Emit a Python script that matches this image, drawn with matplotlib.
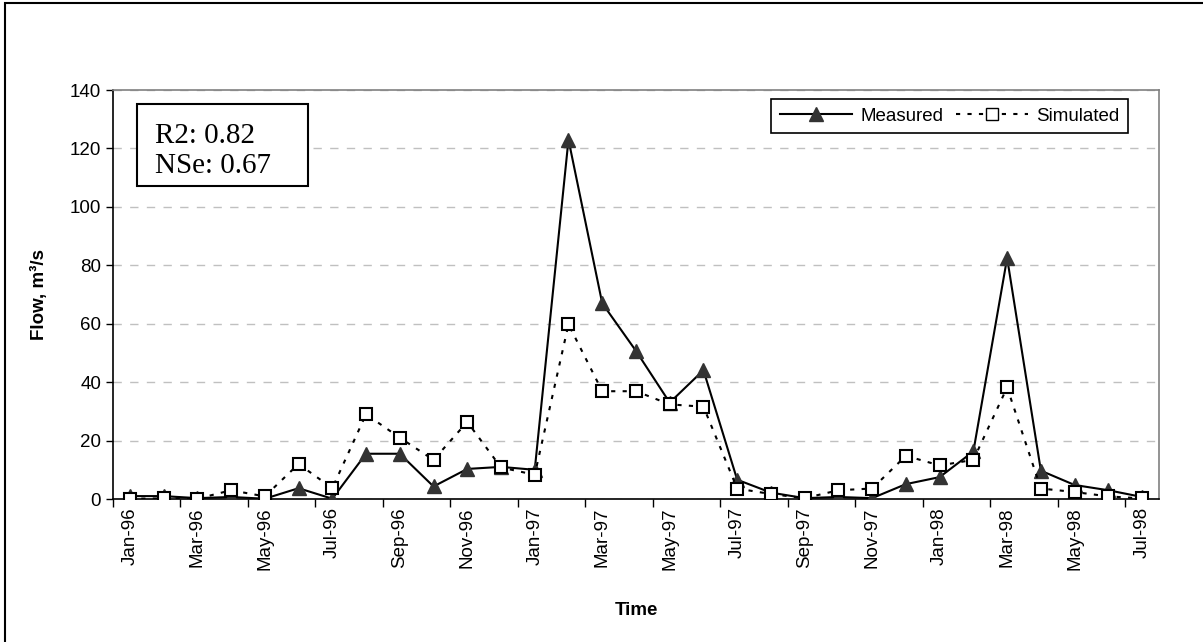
import matplotlib.pyplot as plt
from matplotlib.lines import Line2D

months = ['Jan-96', 'Feb-96', 'Mar-96', 'Apr-96', 'May-96', 'Jun-96', 'Jul-96', 'Aug-96',
          'Sep-96', 'Oct-96', 'Nov-96', 'Dec-96', 'Jan-97', 'Feb-97', 'Mar-97', 'Apr-97',
          'May-97', 'Jun-97', 'Jul-97', 'Aug-97', 'Sep-97', 'Oct-97', 'Nov-97', 'Dec-97',
          'Jan-98', 'Feb-98', 'Mar-98', 'Apr-98', 'May-98', 'Jun-98', 'Jul-98']
measured = [1.0, 1.0, 0.3, 0.7, 0.1, 3.7, 0.1, 15.5, 15.5, 4.3, 10.3, 11.0, 10.0, 123.0,
            67.0, 50.7, 33.0, 44.1, 6.6, 2.2, 0.3, 0.7, 0.3, 5.1, 7.5, 16.3, 82.5,
            9.7, 4.8, 3.0, 0.7]
simulated = [0.1, 0.2, 0.1, 3.0, 0.9, 12.0, 3.7, 29.0, 21.0, 13.4, 26.4, 10.8, 8.3, 59.8,
             36.9, 36.9, 32.4, 31.6, 3.6, 1.7, 0.3, 3.0, 3.6, 14.8, 11.5, 13.4, 38.2,
             3.6, 2.4, 0.9, 0.2]
stats_text = 'R2: 0.82\nNSe: 0.67'

plt.rcParams['font.family'] = ['Liberation Sans', 'DejaVu Sans']
fs = 13.5

fig = plt.figure(figsize=(12.03, 6.42), dpi=100)
ax = fig.add_axes([0.0939, 0.2227, 0.8695, 0.6371])

x = list(range(len(months)))
ax.plot(x, measured, color='black', lw=1.5, marker='^', markersize=10,
        markerfacecolor='#333333', markeredgecolor='#333333', zorder=3)
ax.plot(x, simulated, color='black', lw=1.5, linestyle=(0, (2, 3.5)), marker='s',
        markersize=9, markerfacecolor='white', markeredgecolor='black',
        markeredgewidth=1.5, zorder=4)

ax.set_xlim(-0.5, len(months) - 0.5)
ax.set_ylim(0, 140)
ax.set_yticks(range(0, 141, 20))
ax.tick_params(axis='y', labelsize=fs, direction='out', length=5, width=1)
ax.set_xticks(x[::2])
ax.set_xticklabels(months[::2], rotation=90, fontsize=fs)
ax.set_xticks([i - 0.5 for i in range(0, len(months) + 1, 2)], minor=True)
ax.tick_params(axis='x', which='major', length=0, pad=6)
ax.tick_params(axis='x', which='minor', direction='out', length=6, width=1)

ax.yaxis.grid(True, linestyle=(0, (6, 6)), color='#c0c0c0', lw=1)
ax.set_axisbelow(True)
for s in ['top', 'right']:
    ax.spines[s].set_color('#808080')
    ax.spines[s].set_linewidth(1.2)
for s in ['left', 'bottom']:
    ax.spines[s].set_color('black')
    ax.spines[s].set_linewidth(1.2)

ax.set_ylabel('Flow, m³/s', fontsize=fs, fontweight='bold', labelpad=16)
ax.set_xlabel('Time', fontsize=fs, fontweight='bold', labelpad=23)

# statistics box
ax.add_patch(plt.Rectangle((0.0229, 0.7653), 0.1633, 0.2005, transform=ax.transAxes,
                           facecolor='white', edgecolor='black', lw=1.5, zorder=5))
ax.text(0.0401, 0.92, stats_text, transform=ax.transAxes, va='top', ha='left',
        fontsize=21, family='Liberation Serif', linespacing=1.2, zorder=6)

handles = [Line2D([], [], color='black', lw=1.5, marker='^', markersize=10,
                  markerfacecolor='#333333', markeredgecolor='#333333'),
           Line2D([], [], color='black', lw=1.5, linestyle=(0, (2, 3.5)), marker='s',
                  markersize=9, markerfacecolor='white', markeredgecolor='black')]
leg = ax.legend(handles, ['Measured', 'Simulated'], loc='upper right',
                bbox_to_anchor=(0.9704, 0.978), borderaxespad=0, ncol=2, fontsize=fs,
                handlelength=3.85, columnspacing=0.65, handletextpad=0.45,
                fancybox=False, framealpha=1, borderpad=0.45)
leg.get_frame().set_edgecolor('black')
leg.get_frame().set_linewidth(1.2)

# outer chart frame (left and top edges visible)
fig.add_artist(plt.Rectangle((5 / 1203, -0.1), 1.2, 1 - 3 / 642 + 0.1,
                             transform=fig.transFigure, fill=False,
                             edgecolor='black', lw=1.5))

fig.savefig('out.png', dpi=100)
